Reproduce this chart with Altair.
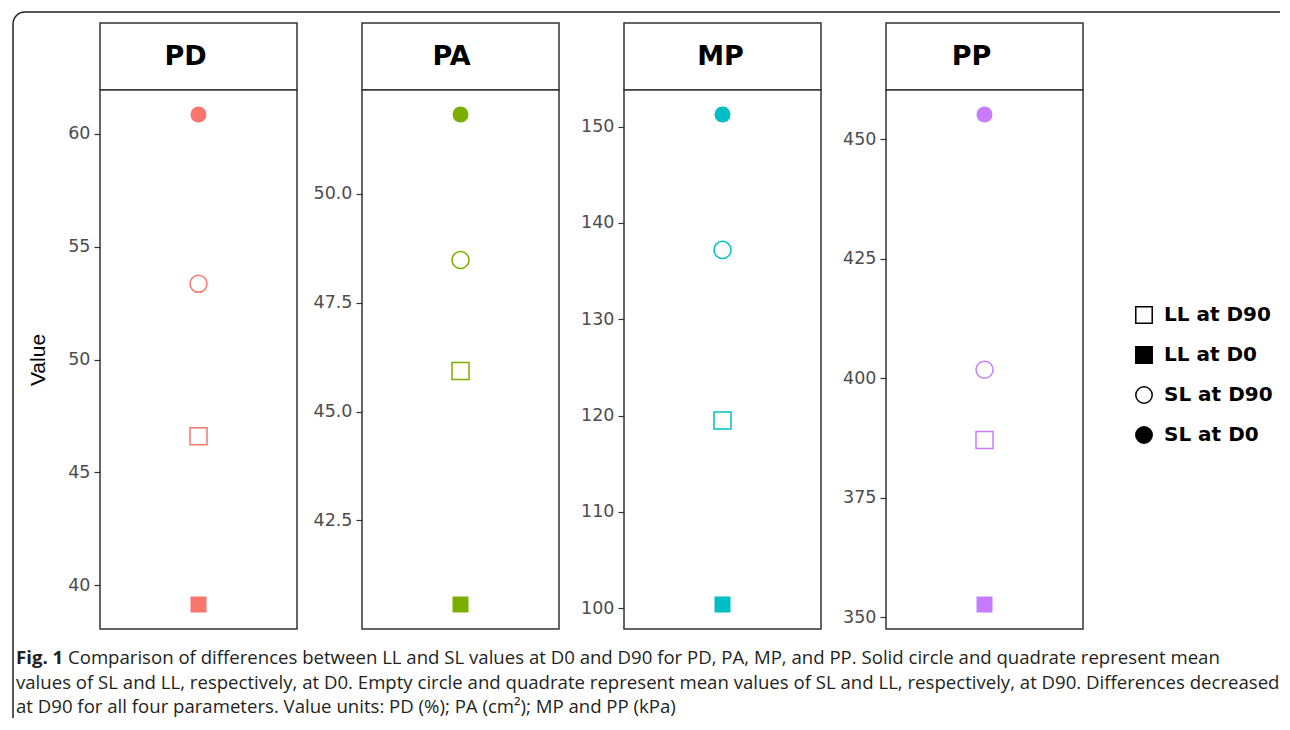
import math
import altair as alt
import pandas as pd

# ---------------- data ----------------
params = ["PD", "PA", "MP", "PP"]
groups = ["LL at D90", "LL at D0", "SL at D90", "SL at D0"]
times = ["D90", "D0", "D90", "D0"]
colors = ["#F8766D", "#7CAE00", "#00BFC4", "#C77CFF"]
legend_fills = ["transparent", "black", "transparent", "black"]
legend_strokes = ["black", "black", "black", "black"]
shapes = ["square", "square", "circle", "circle"]

pd_vals = [46.6, 39.15, 53.35, 60.85]
pa_vals = [45.93, 40.57, 48.48, 51.82]
mp_vals = [119.5, 100.4, 137.2, 151.25]
pp_vals = [387.1, 352.7, 401.8, 455.2]

pd_ticks = [40, 45, 50, 55, 60]
pa_ticks = [42.5, 45.0, 47.5, 50.0]
mp_ticks = [100, 110, 120, 130, 140, 150]
pp_ticks = [350, 375, 400, 425, 450]

caption_bold = "Fig. 1"
caption_lines = [
    "Comparison of differences between LL and SL values at D0 and D90 for PD, PA, MP, and PP. Solid circle and quadrate represent mean",
    "values of SL and LL, respectively, at D0. Empty circle and quadrate represent mean values of SL and LL, respectively, at D90. Differences decreased",
    "at D90 for all four parameters. Value units: PD (%); PA (cm\u00b2); MP and PP (kPa)",
]

PANEL_W = 197
PLOT_H = 539
HEAD_H = 67
BORDER = "#333333"
FRAME = "#222222"

legend_kw = dict(
    title=None,
    orient="none",
    legendX=1034,
    legendY=282,
    labelFont="DejaVu Sans",
    labelFontWeight="bold",
    labelFontSize=20,
    labelColor="black",
    labelOffset=10,
    symbolSize=270,
    symbolStrokeWidth=1.5,
    symbolOpacity=1,
    rowPadding=16,
    padding=0,
)

# ---------------- caption + outer frame (drawn from the first panel) ----------------
CAP_FONT = "Open Sans"
CAP_SIZE = 18.6
cap_color = "#231f20"
cap_df = pd.DataFrame({"text": caption_lines, "line": [1, 2, 3]})

# frame relative to the first plot's origin; in the reference its right and
# bottom sides run off the figure, so only the top and left sides are drawn
FX1, FX2, FY1, FY2, FR = -87, 1180, -78, 628, 12
one = pd.DataFrame({"a": [0]})


def caption_layers():
    cap_base = alt.Chart(cap_df)
    top_edge = (
        alt.Chart(one)
        .mark_rule(color=FRAME, strokeWidth=1.5)
        .encode(x=alt.value(FX1 + FR), x2=alt.value(FX2), y=alt.value(FY1))
    )
    left_edge = (
        alt.Chart(one)
        .mark_rule(color=FRAME, strokeWidth=1.5)
        .encode(x=alt.value(FX1), y=alt.value(FY1 + FR), y2=alt.value(FY2))
    )
    corner = (
        alt.Chart(one)
        .mark_arc(radius=FR, radius2=FR, theta=1.5 * math.pi, theta2=2 * math.pi,
                  fill="transparent", stroke=FRAME, strokeWidth=1.5)
        .encode(x=alt.value(FX1 + FR), y=alt.value(FY1 + FR))
    )
    fig_label = (
        alt.Chart(pd.DataFrame({"text": [caption_bold]}))
        .mark_text(font=CAP_FONT, fontSize=CAP_SIZE, fontWeight="bold", align="left",
                   baseline="middle", color=cap_color)
        .encode(text="text:N", x=alt.value(-84), y=alt.value(568))
    )
    out = [top_edge, left_edge, corner, fig_label]
    for i, (xv, yv) in enumerate([(-32, 568), (-84, 593), (-84, 617)], start=1):
        out.append(
            cap_base.transform_filter(alt.datum.line == i)
            .mark_text(font=CAP_FONT, fontSize=CAP_SIZE, align="left", baseline="middle", color=cap_color)
            .encode(text="text:N", x=alt.value(xv), y=alt.value(yv))
        )
    return out


def panel(name, vals, ticks, fmt, first, head_dx):
    df = pd.DataFrame({"param": name, "group": groups, "value": vals, "time": times})
    lo, hi = min(vals), max(vals)
    pad = 0.05 * (hi - lo)
    axis = alt.Axis(
        values=ticks,
        format=fmt,
        grid=False,
        domain=False,
        ticks=True,
        tickSize=6,
        tickColor=BORDER,
        tickWidth=1.2,
        labelPadding=4,
        labelFont="DejaVu Sans",
        labelFontSize=17.5,
        labelColor="#4d4d4d",
        titleFont="Liberation Sans",
        titleFontSize=21,
        titleFontWeight="normal",
        titleColor="black",
        titlePadding=19,
    )
    y = alt.Y(
        "value:Q",
        scale=alt.Scale(domain=[lo - pad, hi + pad], nice=False, zero=False),
        axis=axis,
        title="Value" if first else None,
    )
    shape_scale = alt.Scale(domain=groups, range=shapes)
    color = alt.Color("param:N", scale=alt.Scale(domain=params, range=colors), legend=None)
    base = alt.Chart(df).encode(
        y=y, shape=alt.Shape("group:N", scale=shape_scale, legend=None), color=color
    )
    open_pts = base.transform_filter(alt.datum.time == "D90").mark_point(
        filled=False, size=290, strokeWidth=1.5, opacity=1
    )
    solid_pts = base.transform_filter(alt.datum.time == "D0").mark_point(
        filled=True, size=256, opacity=1
    )
    layers = [open_pts, solid_pts]
    if first:
        legend_layer = (
            alt.Chart(df)
            .mark_point(filled=False, strokeWidth=1.5, opacity=0, size=270)
            .encode(
                y=y,
                shape=alt.Shape("group:N", scale=shape_scale, legend=alt.Legend(**legend_kw)),
                fill=alt.Fill(
                    "group:N",
                    scale=alt.Scale(domain=groups, range=legend_fills),
                    legend=alt.Legend(**legend_kw),
                ),
                stroke=alt.Stroke(
                    "group:N",
                    scale=alt.Scale(domain=groups, range=legend_strokes),
                    legend=alt.Legend(**legend_kw),
                ),
            )
        )
        layers = caption_layers() + [legend_layer] + layers
    plot = alt.layer(*layers).properties(
        width=PANEL_W,
        height=PLOT_H,
        view=alt.ViewBackground(stroke=BORDER, strokeWidth=1.5, fill="white"),
    )
    header = (
        alt.Chart(pd.DataFrame({"param": [name]}))
        .mark_text(font="DejaVu Sans", fontWeight="bold", fontSize=27, color="black",
                   baseline="middle", dx=head_dx)
        .encode(text="param:N")
        .properties(
            width=PANEL_W,
            height=HEAD_H,
            view=alt.ViewBackground(stroke=BORDER, strokeWidth=1.5, fill="white"),
        )
    )
    return header, plot


h1, q1 = panel("PD", pd_vals, pd_ticks, "d", True, -13)
h2, q2 = panel("PA", pa_vals, pa_ticks, ".1f", False, -9)
h3, q3 = panel("MP", mp_vals, mp_ticks, "d", False, -2)
h4, q4 = panel("PP", pp_vals, pp_ticks, "d", False, -13)

chart = (
    alt.concat(h1, h2, h3, h4, q1, q2, q3, q4, columns=4,
               spacing={"row": 0, "column": 65}, bounds="flush")
    .properties(padding={"left": 1, "top": 0, "right": 0, "bottom": 0}, background="white")
    .configure_view(stroke="transparent")
)

chart.save("out.html", embed_options={"renderer": "svg", "actions": False})
